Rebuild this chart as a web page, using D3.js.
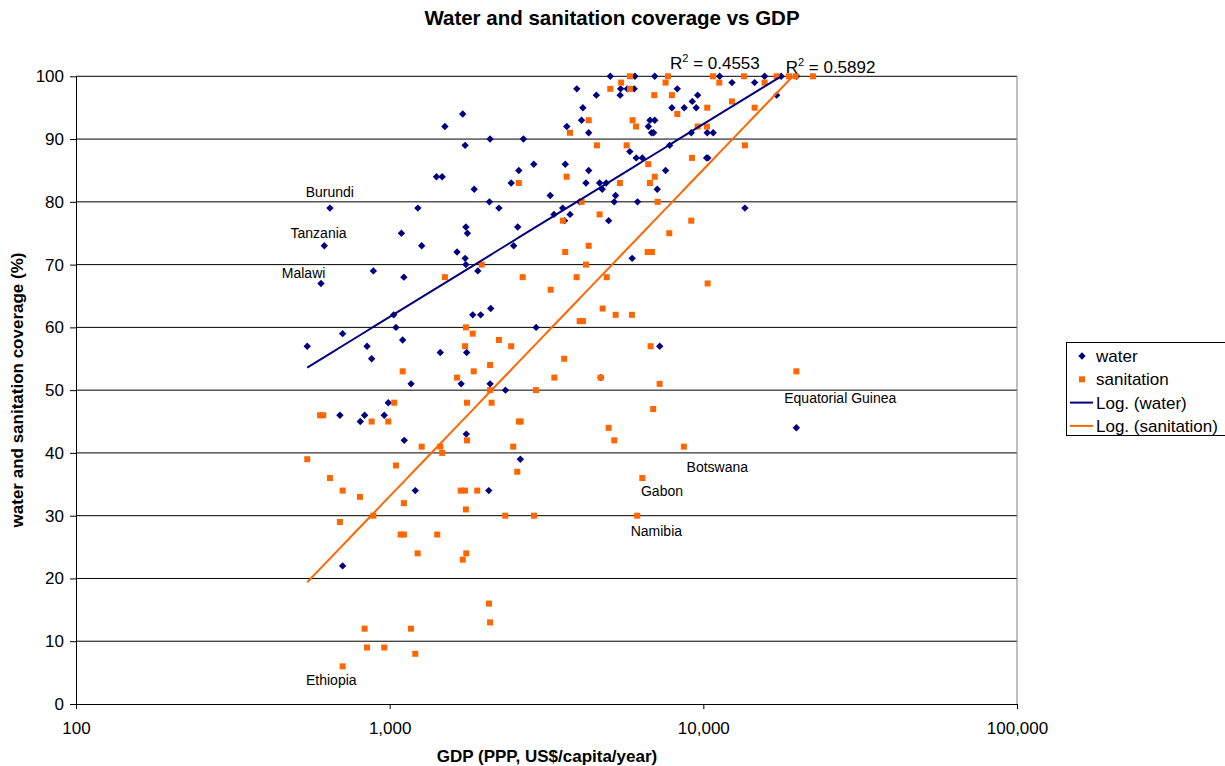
<!DOCTYPE html>
<html>
<head>
<meta charset="utf-8">
<script src="https://cdn.jsdelivr.net/npm/d3@7"></script>
<style>
  body { margin: 0; background: #fff; }
  text { font-family: Arial, "Liberation Sans", sans-serif; fill: #000; }
</style>
</head>
<body>
<svg id="chart" width="1225" height="766"></svg>
<script>
// water coverage (%) against GDP per capita (PPP, US$)
const waterGdp = [1710, 1500, 2090, 2670, 1740, 1410, 1470, 2580, 2440, 1860,
  645, 1230, 2080, 2230, 1750, 1770, 2560, 619, 1090, 1265,
  1640, 1740, 1750, 2485, 1910, 887, 1110, 604, 2100, 1840,
  1950, 1030, 708, 1047, 1100, 546, 847, 876, 1450, 1760,
  1170, 1690, 2090, 2340, 990, 694, 832, 961, 806, 1113,
  1755, 2610, 1207, 2070, 708, 5050, 6050, 7000, 11270, 3950,
  5450, 5720, 6020, 5430, 4560, 8260, 12340, 14570, 4130, 4090,
  3670, 4310, 7940, 8690, 9220, 9590, 9490, 6760, 7000, 6680,
  6840, 6940, 9150, 10290, 10750, 7810, 5830, 6110, 6390, 10240,
  10340, 2880, 3630, 4310, 7580, 4225, 4670, 4900, 4760, 7130,
  3250, 5250, 3560, 4030, 5200, 6170, 3340, 3760, 3610, 4990,
  13570, 5930, 2930, 7260, 4710, 15680, 17710, 19830, 17130, 19800];
const waterPct = [94, 92, 90, 90, 89, 84, 84, 85, 83, 82,
  79, 79, 80, 79, 76, 75, 76, 73, 75, 73,
  72, 71, 70, 73, 69, 69, 68, 67, 63, 62,
  62, 62, 59, 60, 58, 57, 57, 55, 56, 56,
  51, 51, 51, 50, 48, 46, 46, 46, 45, 42,
  43, 39, 34, 34, 22, 100, 100, 100, 100, 98,
  98, 98, 98, 97, 97, 98, 99, 99, 95, 93,
  92, 91, 95, 95, 96, 97, 95, 93, 93, 92,
  91, 91, 91, 91, 91, 89, 88, 87, 87, 87,
  87, 86, 86, 85, 85, 83, 83, 83, 82, 82,
  81, 81, 79, 80, 80, 80, 78, 78, 77, 77,
  79, 71, 60, 57, 52, 100, 100, 100, 97, 44];

// sanitation coverage (%) against GDP per capita
const sanGdp = [2580, 1965, 1500, 2655, 1750, 1840, 2230, 2440, 1740, 1100,
  1640, 1853, 2090, 2090, 1034, 1764, 2113, 600, 614, 876,
  990, 1265, 1450, 1470, 1764, 2584, 2616, 2477, 2551, 546,
  645, 708, 804, 1047, 1110, 1684, 1738, 1902, 1750, 2336,
  887, 694, 1084, 1110, 1418, 1228, 1755, 1710, 2073, 2090,
  832, 1169, 847, 961, 1207, 708, 5834, 7710, 10730, 13470,
  5470, 7580, 11240, 5050, 5834, 6975, 7940, 12340, 14570, 10290,
  4310, 5950, 8260, 3756, 6100, 9590, 10270, 4580, 5694, 13570,
  9200, 3666, 7000, 6675, 6758, 5420, 4093, 7150, 3567, 4670,
  9150, 7787, 4310, 3628, 6645, 6857, 4225, 3946, 4918, 10320,
  3260, 4775, 4034, 4133, 5253, 5920, 6790, 3600, 3350, 2927,
  7256, 4706, 6920, 4990, 5200, 8670, 6390, 2884, 6155, 17130,
  18750, 19690, 22360, 15680, 19800];
const sanPct = [83, 70, 68, 68, 60, 59, 58, 57, 57, 53,
  52, 53, 54, 50, 48, 48, 48, 46, 46, 45,
  45, 41, 41, 40, 42, 45, 45, 41, 37, 39,
  36, 34, 33, 38, 32, 34, 34, 34, 31, 30,
  30, 29, 27, 27, 27, 24, 24, 23, 16, 13,
  12, 12, 9, 9, 8, 6, 100, 100, 100, 100,
  99, 99, 99, 98, 98, 97, 97, 96, 95, 95,
  93, 93, 94, 91, 92, 92, 92, 89, 89, 89,
  87, 84, 84, 86, 83, 83, 80, 80, 77, 78,
  77, 75, 73, 72, 72, 72, 70, 68, 68, 67,
  66, 63, 61, 61, 62, 62, 57, 55, 52, 50,
  51, 52, 47, 44, 42, 41, 36, 30, 30, 100,
  100, 100, 100, 99, 53];

// logarithmic trend lines  y = a*ln(x) + b, with R² as printed
const trendA = [13.34, 22.61];
const trendB = [-30.48, -123.1];
const trendR2 = ['0.4553', '0.5892'];
const trendLabelGdp = [7830, 18300];
const trendLabelPct = [101.2, 100.6];

// country call-outs (anchor in data units)
const noteNames = ['Burundi', 'Tanzania', 'Malawi', 'Ethiopia', 'Botswana', 'Gabon', 'Namibia', 'Equatorial Guinea'];
const noteGdp = [540, 483, 453, 541, 8845, 6326, 5867, 18110];
const notePct = [80.8, 74.2, 67.9, 3.1, 37.0, 33.1, 26.8, 48.0];

const xTicks = [100, 1000, 10000, 100000];
const yTicks = [0, 10, 20, 30, 40, 50, 60, 70, 80, 90, 100];

const navy = '#000080';
const orange = '#FF6600';

const svg = d3.select('#chart');

const plotLeft = 76, plotRight = 1017, plotTop = 76.3, plotBottom = 704;

const x = d3.scaleLog().domain([100, 100000]).range([plotLeft, plotRight]);
const y = d3.scaleLinear().domain([0, 100]).range([plotBottom, plotTop]);

svg.append('defs').append('clipPath').attr('id', 'plot-clip')
  .append('rect')
  .attr('x', plotLeft).attr('y', plotTop)
  .attr('width', plotRight - plotLeft).attr('height', plotBottom - plotTop);

// gridlines
svg.append('g')
  .selectAll('line')
  .data(yTicks.filter(d => d > 0))
  .join('line')
  .attr('x1', plotLeft).attr('x2', plotRight)
  .attr('y1', d => y(d)).attr('y2', d => y(d))
  .attr('stroke', '#000')
  .attr('stroke-width', 1);

// right edge of plot area
svg.append('line')
  .attr('x1', plotRight).attr('x2', plotRight)
  .attr('y1', plotTop).attr('y2', plotBottom)
  .attr('stroke', '#808080');

// axes
const gx = svg.append('g')
  .attr('transform', `translate(0,${plotBottom})`)
  .call(d3.axisBottom(x).tickValues(xTicks).tickFormat(d3.format(',')).tickSize(5).tickSizeOuter(0).tickPadding(13));

const gy = svg.append('g')
  .attr('transform', `translate(${plotLeft},0)`)
  .call(d3.axisLeft(y).tickValues(yTicks).tickSize(6).tickSizeOuter(0).tickPadding(6));

[gx, gy].forEach(g => {
  g.selectAll('path, line').attr('stroke', '#000');
  g.selectAll('text').attr('font-size', 17).attr('font-family', 'Arial, "Liberation Sans", sans-serif').attr('fill', '#000');
});

// markers: water first, sanitation on top
const water = waterGdp.map((g, i) => ({ g, p: waterPct[i] }));
const sanitation = sanGdp.map((g, i) => ({ g, p: sanPct[i] }));

svg.append('g')
  .selectAll('path')
  .data(water)
  .join('path')
  .attr('d', 'M0,-3.7L3.7,0L0,3.7L-3.7,0Z')
  .attr('transform', d => `translate(${x(d.g)},${y(d.p)})`)
  .attr('fill', navy);

svg.append('g')
  .selectAll('rect')
  .data(sanitation)
  .join('rect')
  .attr('x', d => x(d.g) - 3)
  .attr('y', d => y(d.p) - 3)
  .attr('width', 6).attr('height', 6)
  .attr('fill', orange);

// trend lines over the series' GDP range
const series = [water, sanitation];
const colors = [navy, orange];
const line = d3.line().x(d => x(d[0])).y(d => y(d[1]));

series.forEach((s, i) => {
  const [g0, g1] = d3.extent(s, d => d.g);
  const l0 = Math.log(g0), l1 = Math.log(g1);
  const pts = d3.range(0, 61).map(k => {
    const g = Math.exp(l0 + (l1 - l0) * k / 60);
    return [g, trendA[i] * Math.log(g) + trendB[i]];
  });
  svg.append('path')
    .datum(pts)
    .attr('clip-path', 'url(#plot-clip)')
    .attr('d', line)
    .attr('fill', 'none')
    .attr('stroke', colors[i])
    .attr('stroke-width', 2);

  const t = svg.append('text')
    .attr('x', x(trendLabelGdp[i]))
    .attr('y', y(trendLabelPct[i]))
    .attr('font-size', 17);
  t.append('tspan').text('R');
  t.append('tspan').attr('font-size', 11).attr('dy', -7).text('2');
  t.append('tspan').attr('dy', 7).text(' = ' + trendR2[i]);
});

// country labels
svg.append('g')
  .selectAll('text')
  .data(noteNames)
  .join('text')
  .attr('x', (d, i) => x(noteGdp[i]))
  .attr('y', (d, i) => y(notePct[i]))
  .attr('font-size', 14)
  .attr('fill', '#222')
  .text(d => d);

// titles
svg.append('text')
  .attr('x', 612).attr('y', 25)
  .attr('text-anchor', 'middle')
  .attr('font-size', 20.5).attr('font-weight', 'bold')
  .text('Water and sanitation coverage vs GDP');

svg.append('text')
  .attr('x', 547).attr('y', 762)
  .attr('text-anchor', 'middle')
  .attr('font-size', 17).attr('font-weight', 'bold')
  .text('GDP (PPP, US$/capita/year)');

svg.append('text')
  .attr('transform', 'translate(23,390) rotate(-90)')
  .attr('text-anchor', 'middle')
  .attr('font-size', 17).attr('font-weight', 'bold')
  .text('water and sanitation coverage (%)');

// legend
const legend = svg.append('g').attr('transform', 'translate(1066,342)');
legend.append('rect')
  .attr('x', 0.5).attr('y', 0.5)
  .attr('width', 175).attr('height', 93)
  .attr('fill', '#fff').attr('stroke', '#000');

const legendItems = ['water', 'sanitation', 'Log. (water)', 'Log. (sanitation)'];
legendItems.forEach((name, i) => {
  const cy = 14 + i * 23.3;
  const row = legend.append('g').attr('transform', `translate(0,${cy})`);
  if (i === 0) {
    row.append('path').attr('d', 'M0,-3.7L3.7,0L0,3.7L-3.7,0Z')
      .attr('transform', 'translate(16,0)').attr('fill', navy);
  } else if (i === 1) {
    row.append('rect').attr('x', 13).attr('y', -3).attr('width', 6).attr('height', 6).attr('fill', orange);
  } else {
    row.append('line').attr('x1', 4).attr('x2', 27).attr('y1', 0).attr('y2', 0)
      .attr('stroke', i === 2 ? navy : orange).attr('stroke-width', 2);
  }
  row.append('text')
    .attr('x', 30).attr('y', 6)
    .attr('font-size', 17)
    .text(name);
});
</script>
</body>
</html>
